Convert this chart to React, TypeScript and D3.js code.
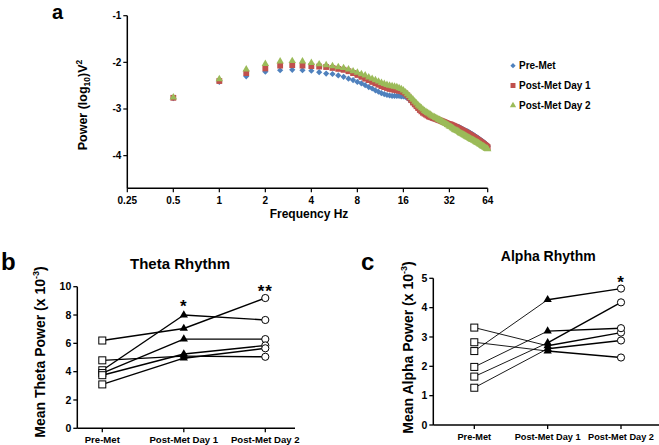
import React from "react";
import * as d3 from "d3";

// ---------- Panel a data ----------
const freqHz = [
  0.5, 1, 1.5, 2, 2.5, 3, 3.5, 4, 4.5, 5,
  5.5, 6, 6.5, 7, 7.5, 8, 8.5, 9, 9.5, 10,
  10.5, 11, 11.5, 12, 12.5, 13, 13.5, 14, 14.5, 15,
  15.5, 16, 16.5, 17, 17.5, 18, 18.5, 19, 19.5, 20,
  20.5, 21, 21.5, 22, 22.5, 23, 23.5, 24, 24.5, 25,
  25.5, 26, 26.5, 27, 27.5, 28, 28.5, 29, 29.5, 30,
  30.5, 31, 31.5, 32, 32.5, 33, 33.5, 34, 34.5, 35,
  35.5, 36, 36.5, 37, 37.5, 38, 38.5, 39, 39.5, 40,
  40.5, 41, 41.5, 42, 42.5, 43, 43.5, 44, 44.5, 45,
  45.5, 46, 46.5, 47, 47.5, 48, 48.5, 49, 49.5, 50,
  50.5, 51, 51.5, 52, 52.5, 53, 53.5, 54, 54.5, 55,
  55.5, 56, 56.5, 57,
];

const preMet = [
  -2.77, -2.42, -2.30, -2.20, -2.17, -2.16, -2.17, -2.18, -2.21, -2.24,
  -2.25, -2.28, -2.31, -2.35, -2.38, -2.42, -2.45, -2.49, -2.53, -2.56,
  -2.60, -2.63, -2.66, -2.68, -2.70, -2.71, -2.72, -2.72, -2.72, -2.72,
  -2.73, -2.73, -2.74, -2.76, -2.80, -2.84, -2.88, -2.92, -2.96, -3.00,
  -3.03, -3.06, -3.09, -3.11, -3.13, -3.15, -3.16, -3.18, -3.19, -3.20,
  -3.21, -3.22, -3.23, -3.24, -3.25, -3.26, -3.27, -3.28, -3.29, -3.30,
  -3.31, -3.31, -3.32, -3.33, -3.33, -3.34, -3.35, -3.35, -3.36, -3.37,
  -3.37, -3.38, -3.39, -3.39, -3.40, -3.41, -3.42, -3.43, -3.44, -3.45,
  -3.46, -3.47, -3.48, -3.48, -3.49, -3.50, -3.51, -3.52, -3.53, -3.54,
  -3.55, -3.56, -3.57, -3.58, -3.59, -3.60, -3.61, -3.62, -3.63, -3.64,
  -3.65, -3.66, -3.67, -3.68, -3.69, -3.70, -3.71, -3.72, -3.73, -3.74,
  -3.75, -3.77, -3.78, -3.80,
];

const postMetDay1 = [
  -2.76, -2.40, -2.23, -2.13, -2.07, -2.06, -2.07, -2.08, -2.09, -2.10,
  -2.12, -2.14, -2.16, -2.19, -2.23, -2.27, -2.31, -2.35, -2.38, -2.42,
  -2.45, -2.48, -2.51, -2.53, -2.55, -2.57, -2.58, -2.59, -2.60, -2.61,
  -2.62, -2.64, -2.67, -2.71, -2.76, -2.81, -2.86, -2.90, -2.94, -2.98,
  -3.02, -3.05, -3.08, -3.10, -3.12, -3.14, -3.16, -3.17, -3.18, -3.19,
  -3.20, -3.21, -3.22, -3.23, -3.24, -3.25, -3.26, -3.27, -3.28, -3.29,
  -3.30, -3.31, -3.32, -3.33, -3.33, -3.34, -3.35, -3.36, -3.37, -3.38,
  -3.39, -3.40, -3.41, -3.42, -3.43, -3.44, -3.45, -3.46, -3.47, -3.48,
  -3.49, -3.50, -3.51, -3.52, -3.53, -3.54, -3.55, -3.56, -3.57, -3.58,
  -3.59, -3.60, -3.61, -3.62, -3.63, -3.64, -3.65, -3.66, -3.67, -3.68,
  -3.69, -3.70, -3.71, -3.72, -3.73, -3.74, -3.75, -3.76, -3.77, -3.78,
  -3.79, -3.80, -3.81, -3.82,
];

const postMetDay2 = [
  -2.75, -2.36, -2.15, -2.03, -1.98, -1.97, -1.98, -2.01, -2.04, -2.06,
  -2.08, -2.10, -2.12, -2.15, -2.19, -2.22, -2.25, -2.28, -2.32, -2.35,
  -2.38, -2.41, -2.44, -2.46, -2.48, -2.50, -2.51, -2.52, -2.53, -2.55,
  -2.57, -2.60, -2.64, -2.68, -2.72, -2.76, -2.80, -2.84, -2.88, -2.92,
  -2.95, -2.98, -3.01, -3.04, -3.06, -3.08, -3.10, -3.12, -3.14, -3.16,
  -3.17, -3.19, -3.20, -3.22, -3.23, -3.25, -3.26, -3.28, -3.29, -3.31,
  -3.32, -3.34, -3.35, -3.37, -3.38, -3.39, -3.41, -3.42, -3.44, -3.45,
  -3.46, -3.47, -3.48, -3.49, -3.51, -3.52, -3.53, -3.54, -3.55, -3.56,
  -3.57, -3.58, -3.59, -3.60, -3.61, -3.62, -3.63, -3.64, -3.65, -3.66,
  -3.66, -3.67, -3.68, -3.69, -3.70, -3.71, -3.72, -3.72, -3.73, -3.74,
  -3.75, -3.76, -3.77, -3.78, -3.79, -3.80, -3.80, -3.81, -3.82, -3.83,
  -3.84, -3.85, -3.85, -3.86,
];

const spectrumSeries = ["Pre-Met", "Post-Met Day 1", "Post-Met Day 2"];
const freqTickValues = [0.25, 0.5, 1, 2, 4, 8, 16, 32, 57];
const freqTickLabels = ["0.25", "0.5", "1", "2", "4", "8", "16", "32", "64"];
const powerTicks = [-1, -2, -3, -4];

// ---------- Panels b & c data ----------
const sessions = ["Pre-Met", "Post-Met Day 1", "Post-Met Day 2"];

const thetaPre = [6.2, 4.1, 3.9, 4.8, 3.75, 3.1];
const thetaDay1 = [7.05, 8.0, 6.3, 5.1, 5.25, 4.95];
const thetaDay2 = [9.2, 7.65, 6.3, 5.05, 5.85, 5.65];
const thetaTicks = [0, 2, 4, 6, 8, 10];

const alphaPre = [2.52, 3.32, 2.82, 1.98, 1.65, 1.27];
const alphaDay1 = [4.27, 2.7, 2.52, 3.2, 2.8, 2.6];
const alphaDay2 = [4.65, 3.15, 2.3, 3.3, 4.18, 2.88];
const alphaTicks = [0, 1, 2, 3, 4, 5];

const FONT = "'Liberation Sans', Arial, sans-serif";
const COLORS = ["#4f81bd", "#c0504d", "#9bbb59"];

function SpectrumPanel() {
  const x = d3.scaleLog().base(2).domain([0.25, 57]).range([127.3, 487.7]);
  const y = d3.scaleLinear().domain([-4.7, -1]).range([188.3, 15.7]);
  const seriesValues = [preMet, postMetDay1, postMetDay2];
  const diamond = d3.symbol().type(d3.symbolSquare).size(19)();
  const square = d3.symbol().type(d3.symbolSquare).size(34)();
  const triangle = d3.symbol().type(d3.symbolTriangle).size(24)();
  const shapes = [diamond, square, triangle];
  const rot = ["rotate(45)", "", ""];
  return (
    <g fontFamily={FONT} fontWeight="bold">
      <text x={52} y={19} fontSize={20}>a</text>
      {seriesValues.map((vals, si) => (
        <g key={si} fill={COLORS[si]}>
          {vals.map((v, i) => (
            <path
              key={i}
              d={shapes[si]}
              transform={`translate(${x(freqHz[i])},${y(v)}) ${rot[si]}`}
            />
          ))}
        </g>
      ))}
      {/* axes */}
      <line x1={x(0.25)} x2={x(0.25)} y1={y(-1)} y2={y(-4.7)} stroke="#000" strokeWidth={1.5} />
      <line x1={x(0.25)} x2={x(57)} y1={y(-4.7)} y2={y(-4.7)} stroke="#000" strokeWidth={1.5} />
      {powerTicks.map((t) => (
        <g key={t}>
          <line x1={x(0.25) - 4} x2={x(0.25)} y1={y(t)} y2={y(t)} stroke="#000" strokeWidth={1.2} />
          <text x={x(0.25) - 6} y={y(t)} dy="0.35em" textAnchor="end" fontSize={10}>{t}</text>
        </g>
      ))}
      {freqTickValues.map((t, i) => (
        <g key={t}>
          <line x1={x(t)} x2={x(t)} y1={y(-4.7)} y2={y(-4.7) + 4} stroke="#000" strokeWidth={1.2} />
          <text x={x(t)} y={y(-4.7) + 16} textAnchor="middle" fontSize={10}>{freqTickLabels[i]}</text>
        </g>
      ))}
      <text x={309} y={218} textAnchor="middle" fontSize={12}>Frequency Hz</text>
      <text transform="translate(87,105) rotate(-90)" textAnchor="middle" fontSize={12.5}>
        Power (log<tspan fontSize={8.5} dy={3}>10</tspan><tspan dy={-3}>)V</tspan>
        <tspan fontSize={8.5} dy={-5}>2</tspan>
      </text>
      {/* legend */}
      {spectrumSeries.map((s, i) => (
        <g key={s} transform={`translate(513,${65.7 + i * 19.8})`}>
          <path d={shapes[i]} transform={`${rot[i]} scale(0.85)`} fill={COLORS[i]} />
          <text x={6} dy="0.35em" fontSize={10}>{s}</text>
        </g>
      ))}
    </g>
  );
}

type DotProps = {
  pre: number[];
  d1: number[];
  d2: number[];
  ticks: number[];
  yMax: number;
  yRange: [number, number];
  xRange: [number, number];
  axisX: number;
  axisEnd: number;
  title: string;
  titleX: number;
  titleY: number;
  titleSize: number;
  label: string;
  labelX: number;
  labelY: number;
  yTitle: string;
  yTitleX: number;
  yTitleY: number;
  catSize: number;
  thinFirst: boolean;
  stars: { idx: number; text: string; y: number }[];
};

function DotPanel(p: DotProps) {
  const x = d3.scalePoint<string>().domain(sessions).range(p.xRange);
  const y = d3.scaleLinear().domain([0, p.yMax]).range(p.yRange);
  const cols = [p.pre, p.d1, p.d2];
  const tri = d3.symbol().type(d3.symbolTriangle).size(30)();
  const y0 = y(0);
  return (
    <g fontFamily={FONT} fontWeight="bold">
      <text x={p.labelX} y={p.labelY} fontSize={24}>{p.label}</text>
      <text x={p.titleX} y={p.titleY} textAnchor="middle" fontSize={p.titleSize}>{p.title}</text>
      <text transform={`translate(${p.yTitleX},${p.yTitleY}) rotate(-90)`} textAnchor="middle" fontSize={14}>
        {p.yTitle}
        <tspan fontSize={9} dy={-6}>-3</tspan>
        <tspan dy={6}>)</tspan>
      </text>
      {/* axes */}
      <line x1={p.axisX} x2={p.axisX} y1={y(p.yMax)} y2={y0} stroke="#000" strokeWidth={1.5} />
      <line x1={p.axisX} x2={p.axisEnd} y1={y0} y2={y0} stroke="#000" strokeWidth={1.5} />
      {p.ticks.map((t) => (
        <g key={t}>
          <line x1={p.axisX - 4} x2={p.axisX} y1={y(t)} y2={y(t)} stroke="#000" strokeWidth={1.3} />
          <text x={p.axisX - 6} y={y(t)} dy="0.35em" textAnchor="end" fontSize={10.5}>{t}</text>
        </g>
      ))}
      {sessions.map((s) => (
        <g key={s}>
          <line x1={x(s)!} x2={x(s)!} y1={y0} y2={y0 + 4} stroke="#000" strokeWidth={1.3} />
          <text x={x(s)!} y={y0 + 15} textAnchor="middle" fontSize={p.catSize}>{s}</text>
        </g>
      ))}
      {/* subject lines */}
      {p.pre.map((_, i) => (
        <g key={i} stroke="#000" fill="none">
          <line
            x1={x(sessions[0])!} y1={y(p.pre[i])}
            x2={x(sessions[1])!} y2={y(p.d1[i])}
            strokeWidth={p.thinFirst ? 0.9 : 1.4}
          />
          <line
            x1={x(sessions[1])!} y1={y(p.d1[i])}
            x2={x(sessions[2])!} y2={y(p.d2[i])}
            strokeWidth={1.4}
          />
        </g>
      ))}
      {/* markers */}
      {cols[0].map((v, i) => (
        <rect key={"s" + i} x={x(sessions[0])! - 3.5} y={y(v) - 3.5} width={7} height={7} fill="#fff" stroke="#000" strokeWidth={1} />
      ))}
      {cols[1].map((v, i) => (
        <path key={"t" + i} d={tri} transform={`translate(${x(sessions[1])},${y(v)})`} fill="#000" />
      ))}
      {cols[2].map((v, i) => (
        <circle key={"c" + i} cx={x(sessions[2])!} cy={y(v)} r={3.6} fill="#fff" stroke="#000" strokeWidth={1} />
      ))}
      {p.stars.map((s, i) => (
        <text key={i} x={x(sessions[s.idx])!} y={s.y} textAnchor="middle" fontSize={17} letterSpacing={1}>{s.text}</text>
      ))}
    </g>
  );
}

export default function App() {
  return (
    <svg
      width={659}
      height={445}
      style={{ position: "absolute", left: 0, top: 0, background: "#fff" }}
    >
      <rect width={659} height={445} fill="#fff" />
      <SpectrumPanel />
      <DotPanel
        pre={thetaPre}
        d1={thetaDay1}
        d2={thetaDay2}
        ticks={thetaTicks}
        yMax={10}
        yRange={[428.3, 286.7]}
        xRange={[102.3, 265.3]}
        axisX={77.3}
        axisEnd={295}
        title="Theta Rhythm"
        titleX={180}
        titleY={269}
        titleSize={15}
        label="b"
        labelX={1}
        labelY={270}
        yTitle="Mean Theta Power (x 10"
        yTitleX={45}
        yTitleY={352}
        catSize={9.6}
        thinFirst={false}
        stars={[
          { idx: 1, text: "*", y: 312 },
          { idx: 2, text: "**", y: 297 },
        ]}
      />
      <DotPanel
        pre={alphaPre}
        d1={alphaDay1}
        d2={alphaDay2}
        ticks={alphaTicks}
        yMax={5}
        yRange={[425, 278.3]}
        xRange={[474.3, 621]}
        axisX={433.3}
        axisEnd={659}
        title="Alpha Rhythm"
        titleX={548.3}
        titleY={261}
        titleSize={14}
        label="c"
        labelX={361}
        labelY={270}
        yTitle="Mean Alpha Power (x 10"
        yTitleX={413}
        yTitleY={347.5}
        catSize={9.2}
        thinFirst={true}
        stars={[{ idx: 2, text: "*", y: 288 }]}
      />
    </svg>
  );
}
